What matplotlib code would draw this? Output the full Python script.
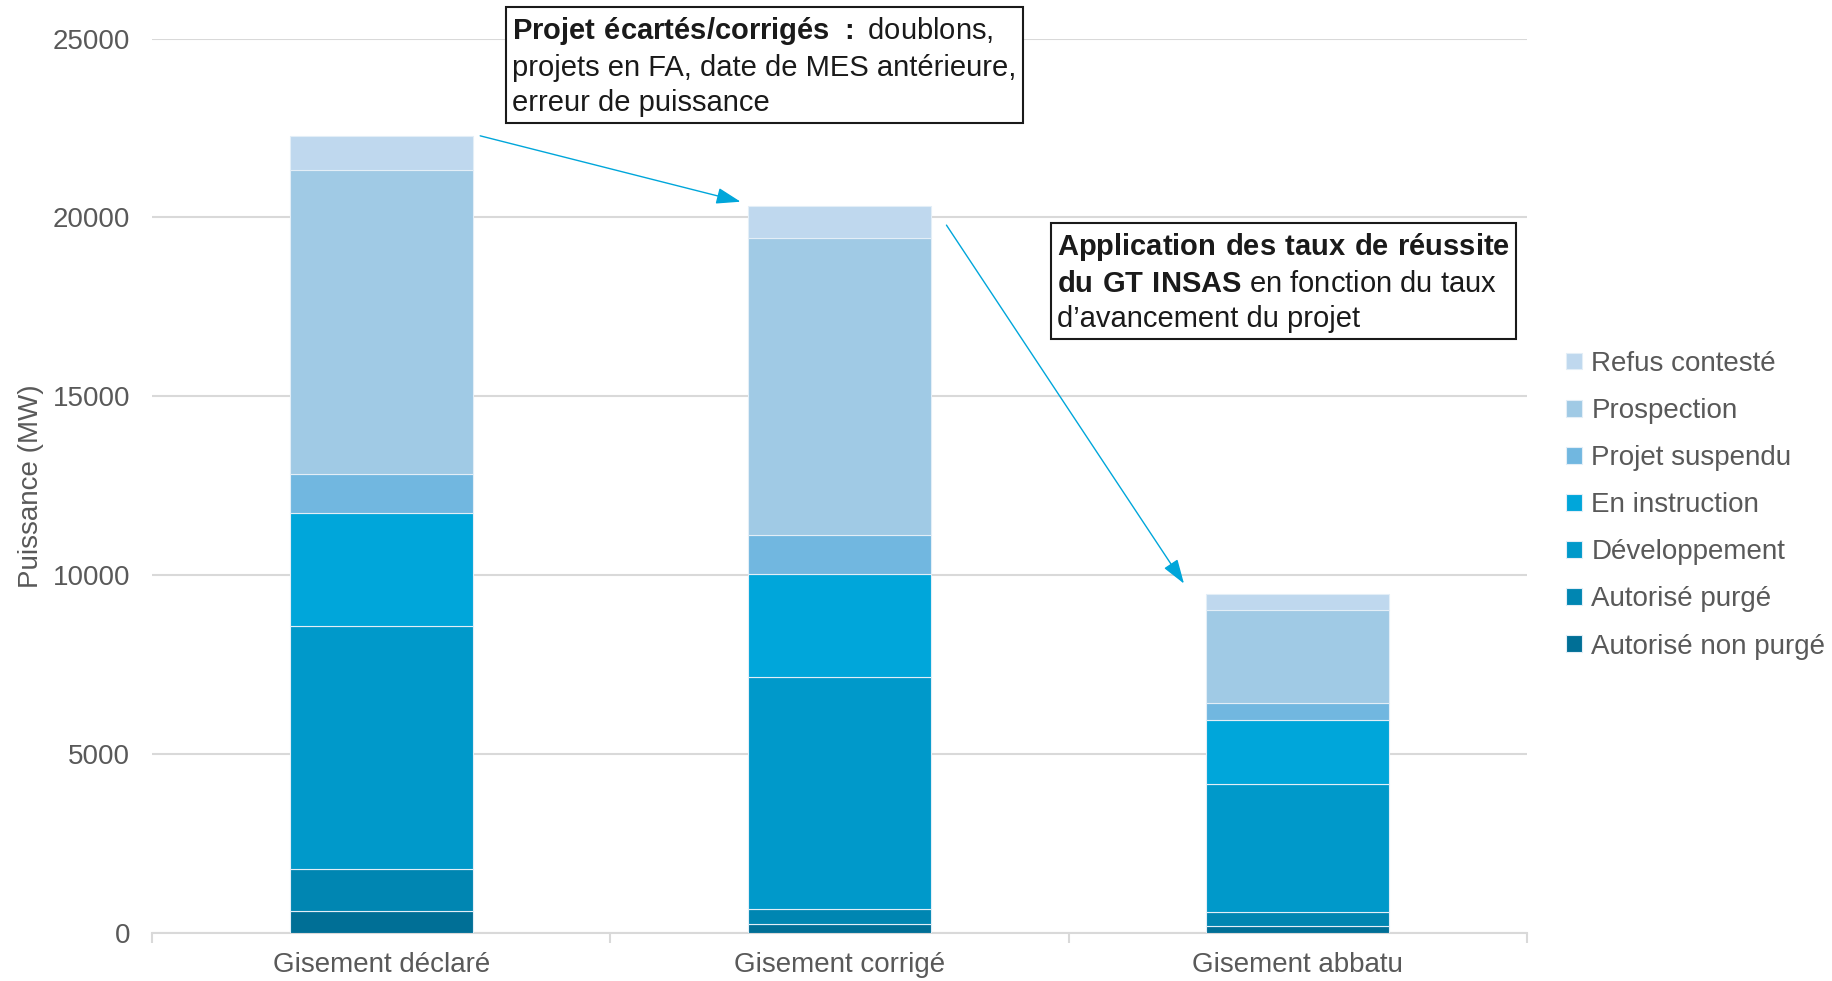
import matplotlib
matplotlib.use("Agg")
import matplotlib.pyplot as plt
import numpy as np

plt.rcParams['font.family'] = ['Liberation Sans', 'DejaVu Sans']
plt.rcParams['mathtext.fontset'] = 'custom'
plt.rcParams['mathtext.rm'] = 'Liberation Sans'
plt.rcParams['mathtext.bf'] = 'Liberation Sans:bold'

# données (MW)
categories = ['Gisement déclaré', 'Gisement corrigé', 'Gisement abbatu']
series = ['Autorisé non purgé', 'Autorisé purgé', 'Développement', 'En instruction',
          'Projet suspendu', 'Prospection', 'Refus contesté']
autorise_non_purge = [600, 250, 185]
autorise_purge = [1200, 420, 410]
developpement = [6770, 6470, 3560]
en_instruction = [3170, 2890, 1795]
projet_suspendu = [1100, 1100, 485]
prospection = [8490, 8300, 2590]
refus_conteste = [940, 880, 435]
yticks = [0, 5000, 10000, 15000, 20000, 25000]

values = [autorise_non_purge, autorise_purge, developpement, en_instruction,
          projet_suspendu, prospection, refus_conteste]
colors = ['#006F96', '#0086B2', '#0099CA', '#00A6DA', '#71B7E0', '#A0CAE5', '#BFD8EE']

fig = plt.figure(figsize=(18.33, 9.81), dpi=100)
ax = fig.add_axes([0.083, 0.049, 0.75, 0.9117])

x = np.arange(len(categories))
bottom = np.zeros(len(categories))
handles = []
for name, vals, col in zip(series, values, colors):
    b = ax.bar(x, vals, width=0.4, bottom=bottom, color=col, label=name,
               edgecolor='#e3eef7', linewidth=0.8, zorder=3)
    handles.append(b)
    bottom += np.array(vals)

ax.set_xlim(-0.5, 2.5)
ax.set_ylim(0, 25000)
ax.set_yticks(yticks)
ax.set_xticks(x)
ax.set_xticklabels(categories)
ax.set_xticks([-0.5, 0.5, 1.5, 2.5], minor=True)
ax.tick_params(axis='x', which='major', length=0, labelsize=20, labelcolor='#595959', pad=14)
ax.tick_params(axis='x', which='minor', length=7, color='#d9d9d9', width=1.5)
ax.tick_params(axis='y', length=0, labelsize=20, labelcolor='#595959', pad=16)
ax.grid(axis='y', color='#d9d9d9', linewidth=1.5, zorder=0)
for s in ['top', 'right', 'left']:
    ax.spines[s].set_visible(False)
ax.spines['bottom'].set_color('#d9d9d9')
ax.spines['bottom'].set_linewidth(1.5)
ax.set_ylabel('Puissance (MW)', fontsize=20, color='#595959', labelpad=6)

leg = fig.legend(handles[::-1], series[::-1], loc='center left',
                 bbox_to_anchor=(0.847, 0.485), frameon=False, fontsize=20,
                 handlelength=0.55, handleheight=0.55, handletextpad=0.35,
                 labelspacing=0.76, borderpad=0)
for t in leg.get_texts():
    t.set_color('#595959')

# annotations
box = dict(boxstyle='square,pad=0.2', fc='white', ec='#1a1a1a', lw=1.5)
fig.text(0.2795, 0.985, r"$\bf{Projet\ écartés/corrigés\ :}$ doublons," "\n"
         "projets en FA, date de MES antérieure,\nerreur de puissance",
         fontsize=21, color='#1a1a1a', va='top', ha='left', linespacing=1.33, bbox=box)
fig.text(0.5765, 0.765, r"$\bf{Application\ des\ taux\ de\ réussite}$" "\n"
         r"$\bf{du\ GT\ INSAS}$ en fonction du taux" "\n"
         "d’avancement du projet",
         fontsize=21, color='#1a1a1a', va='top', ha='left', linespacing=1.33, bbox=box)

arrow = dict(arrowstyle='-|>,head_length=1.5,head_width=0.5', color='#00A6DA', lw=1)
ax.annotate('', xy=(0.79, 20420), xytext=(0.21, 22300), arrowprops=arrow, zorder=5)
ax.annotate('', xy=(1.755, 9700), xytext=(1.23, 19850), arrowprops=arrow, zorder=5)

fig.savefig('out.png', dpi=100)
